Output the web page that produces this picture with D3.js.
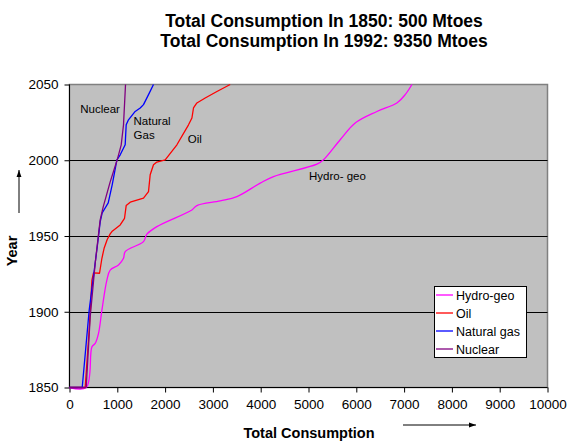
<!DOCTYPE html>
<html>
<head>
<meta charset="utf-8">
<script src="https://cdn.jsdelivr.net/npm/d3@7"></script>
<style>
  html, body { margin: 0; padding: 0; background: #fff; }
  svg { display: block; font-family: "Liberation Sans", Arial, sans-serif; }
</style>
</head>
<body>
<svg id="chart" width="568" height="441"></svg>
<script>
// Cumulative consumption (Mtoe) against year, one curve per energy source
const hydroGeo = [
  [0, 1850], [349, 1850], [469, 1876.8], [538, 1879.1], [607, 1885.7], [678, 1901.1],
  [782, 1920.9], [851, 1927.5], [1025, 1930.9], [1130, 1935.3], [1165, 1939.7],
  [1548, 1946.3], [1619, 1951.2], [1828, 1956.2], [2561, 1967.2], [2665, 1970.1],
  [3153, 1973.2], [3502, 1976], [3990, 1984.9], [4268, 1989.2], [5176, 1997.4],
  [5314, 2000.3], [5663, 2013.5], [5977, 2024.6], [6431, 2032.2], [6849, 2037.8],
  [7023, 2043.3], [7163, 2050]
];
const oil = [
  [0, 1850], [328, 1850], [412, 1887.9], [469, 1920.9], [502, 1925.6], [628, 1925.4],
  [678, 1935.3], [726, 1942.1], [789, 1947.7], [851, 1951.4], [887, 1952.9],
  [1061, 1957.3], [1151, 1961.7], [1186, 1970.1], [1270, 1972.3], [1548, 1975],
  [1653, 1979.3], [1688, 1990.4], [1757, 1997], [1828, 1998.8], [2002, 2000.3],
  [2247, 2010.2], [2490, 2023.4], [2561, 2027.9], [2594, 2034.5], [2665, 2037.8],
  [2839, 2041.1], [3084, 2045.4], [3362, 2050]
];
const naturalGas = [
  [0, 1850], [266, 1850], [412, 1901.1], [580, 1942.8], [642, 1959.3], [684, 1965.2],
  [810, 1971.9], [893, 1983.8], [992, 2000.3], [1061, 2003.6], [1165, 2010.2],
  [1186, 2023.4], [1234, 2026.7], [1374, 2032.2], [1479, 2034.5], [1548, 2036.7],
  [1653, 2043.3], [1757, 2050]
];
const nuclear = [
  [0, 1850], [349, 1850], [433, 1896.5], [538, 1932.2], [642, 1960.6], [705, 1969.2],
  [851, 1985.7], [998, 2000.3], [1082, 2010.2], [1130, 2023.4], [1172, 2050]
];

const seriesNames = ["Hydro-geo", "Oil", "Natural gas", "Nuclear"];
const seriesColors = ["#ff00ff", "#ff0000", "#0000ff", "#800080"];
const seriesData = [hydroGeo, oil, naturalGas, nuclear];

const xTicks = [0, 1000, 2000, 3000, 4000, 5000, 6000, 7000, 8000, 9000, 10000];
const yTicks = [1850, 1900, 1950, 2000, 2050];
const titleLines = ["Total Consumption In 1850: 500 Mtoes", "Total Consumption In 1992: 9350 Mtoes"];

// Labels placed beside the curves: [text, consumption, year]
const curveLabels = [
  ["Nuclear", 225, 2031],
  ["Natural", 1340, 2023.5],
  ["Gas", 1340, 2014],
  ["Oil", 2475, 2011.5],
  ["Hydro- geo", 5010, 1987]
];

const svg = d3.select("#chart");
const plot = { left: 69.5, right: 547.5, top: 84.5, bottom: 387.5 };

const x = d3.scaleLinear().domain([0, 10000]).range([plot.left, plot.right]);
const y = d3.scaleLinear().domain([1850, 2050]).range([plot.bottom, plot.top]);

// Plot area
svg.append("rect")
  .attr("x", plot.left).attr("y", plot.top)
  .attr("width", plot.right - plot.left).attr("height", plot.bottom - plot.top)
  .attr("fill", "#c0c0c0")
  .attr("stroke", "#808080").attr("stroke-width", 1.5);

// Horizontal gridlines
svg.append("g").selectAll("line")
  .data(yTicks.filter(d => d > 1850 && d < 2050))
  .join("line")
  .attr("x1", plot.left).attr("x2", plot.right)
  .attr("y1", d => Math.round(y(d)) + 0.5).attr("y2", d => Math.round(y(d)) + 0.5)
  .attr("stroke", "#000").attr("stroke-width", 1);

// Axes
const xAxis = d3.axisBottom(x).tickValues(xTicks).tickSize(5).tickPadding(7).tickFormat(d3.format("d"));
const yAxis = d3.axisLeft(y).tickValues(yTicks).tickSize(5).tickPadding(6).tickFormat(d3.format("d"));

const gx = svg.append("g").attr("transform", `translate(0,${plot.bottom})`).call(xAxis);
const gy = svg.append("g").attr("transform", `translate(${plot.left},0)`).call(yAxis);
[gx, gy].forEach(g => {
  g.select(".domain").attr("stroke", "#000");
  g.selectAll(".tick line").attr("stroke", "#000");
  g.selectAll(".tick text")
    .attr("fill", "#000")
    .style("font-size", "13.5px")
    .style("font-family", "'Liberation Sans', Arial, sans-serif");
});
gy.select(".domain").attr("d", `M0,${plot.top}V${plot.bottom}`);
gx.select(".domain").attr("d", `M${plot.left},0H${plot.right}`);

// Curves (hydro-geo is drawn smoothed)
const line = d3.line().x(d => x(d[0])).y(d => y(d[1]));
const smoothLine = d3.line().x(d => x(d[0])).y(d => y(d[1])).curve(d3.curveCatmullRom.alpha(0.5));
svg.append("g").selectAll("path")
  .data(seriesData)
  .join("path")
  .attr("d", (d, i) => i === 0 ? smoothLine(d) : line(d))
  .attr("fill", "none")
  .attr("stroke", (d, i) => seriesColors[i])
  .attr("stroke-width", 1.3)
  .attr("stroke-linejoin", "round");

// Curve labels
svg.append("g").selectAll("text")
  .data(curveLabels)
  .join("text")
  .attr("x", d => x(d[1])).attr("y", d => y(d[2]))
  .attr("font-size", 11.5)
  .attr("fill", "#000")
  .text(d => d[0]);

// Title
svg.append("g").selectAll("text")
  .data(titleLines)
  .join("text")
  .attr("x", 324).attr("y", (d, i) => 27 + i * 20)
  .attr("text-anchor", "middle")
  .attr("font-size", 17.5).attr("font-weight", "bold")
  .text(d => d);

// Axis titles with direction arrows
svg.append("defs").append("marker")
  .attr("id", "arrow").attr("viewBox", "0 0 10 10")
  .attr("refX", 10).attr("refY", 5)
  .attr("markerWidth", 7).attr("markerHeight", 7)
  .attr("orient", "auto")
  .append("path").attr("d", "M0,1.5L10,5L0,8.5Z").attr("fill", "#000");

svg.append("text")
  .attr("transform", "translate(17,251) rotate(-90)")
  .attr("text-anchor", "middle")
  .attr("font-size", 14.5).attr("font-weight", "bold")
  .text("Year");
svg.append("line")
  .attr("x1", 19).attr("y1", 213).attr("x2", 19).attr("y2", 170)
  .attr("stroke", "#000").attr("stroke-width", 1)
  .attr("marker-end", "url(#arrow)");

svg.append("text")
  .attr("x", 309).attr("y", 438)
  .attr("text-anchor", "middle")
  .attr("font-size", 14.5).attr("font-weight", "bold")
  .text("Total Consumption");
svg.append("line")
  .attr("x1", 403).attr("y1", 425).attr("x2", 476).attr("y2", 425)
  .attr("stroke", "#000").attr("stroke-width", 1)
  .attr("marker-end", "url(#arrow)");

// Legend
const legend = svg.append("g").attr("transform", "translate(434,286)");
legend.append("rect")
  .attr("x", 0.5).attr("y", 0.5).attr("width", 92).attr("height", 71)
  .attr("fill", "#fff").attr("stroke", "#000").attr("stroke-width", 1);
const items = legend.selectAll("g.item")
  .data(seriesNames)
  .join("g").attr("class", "item")
  .attr("transform", (d, i) => `translate(0,${9 + i * 18})`);
items.append("line")
  .attr("x1", 2).attr("x2", 19).attr("y1", 0).attr("y2", 0)
  .attr("stroke", (d, i) => seriesColors[i]).attr("stroke-width", 1.3);
items.append("text")
  .attr("x", 22).attr("y", 4.5)
  .attr("font-size", 12.5)
  .text(d => d);
</script>
</body>
</html>
